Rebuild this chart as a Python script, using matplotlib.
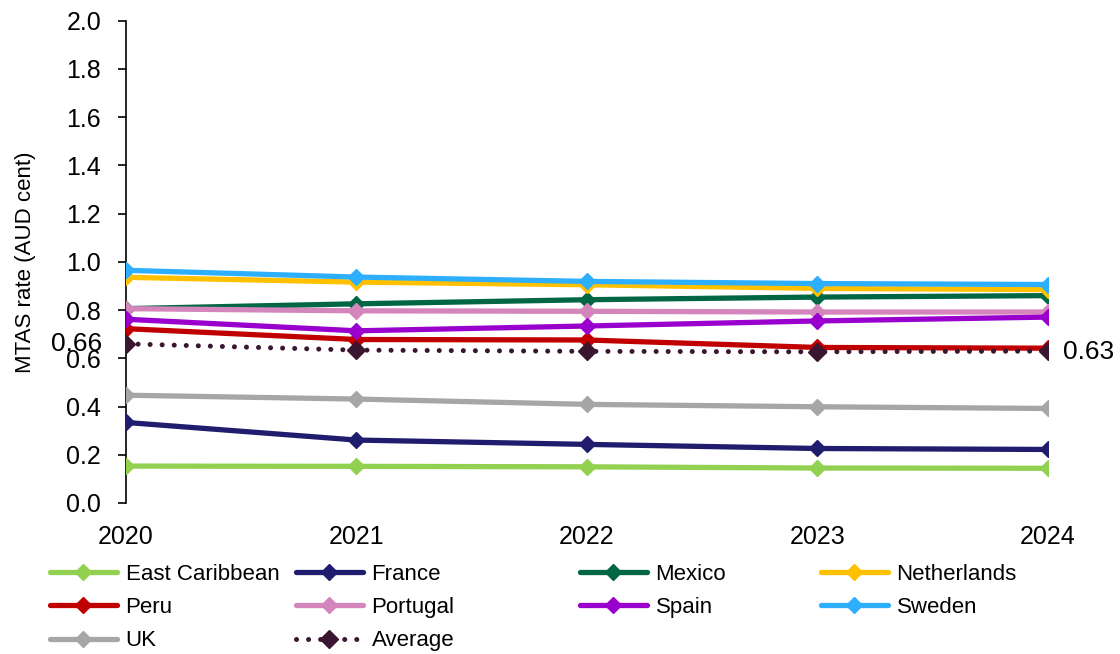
import matplotlib
matplotlib.use("Agg")
import matplotlib.pyplot as plt

years = [2020, 2021, 2022, 2023, 2024]

east_caribbean = [0.153, 0.152, 0.150, 0.145, 0.144]
france = [0.334, 0.261, 0.243, 0.226, 0.222]
mexico = [0.806, 0.826, 0.843, 0.854, 0.860]
netherlands = [0.936, 0.916, 0.905, 0.890, 0.885]
peru = [0.723, 0.678, 0.676, 0.645, 0.642]
portugal = [0.806, 0.797, 0.795, 0.792, 0.792]
spain = [0.762, 0.714, 0.734, 0.755, 0.771]
sweden = [0.965, 0.937, 0.919, 0.910, 0.906]
uk = [0.447, 0.431, 0.409, 0.399, 0.392]
average = [0.66, 0.634, 0.629, 0.627, 0.63]

series = [
    ("East Caribbean", east_caribbean, "#92D050"),
    ("France", france, "#211D6E"),
    ("Mexico", mexico, "#006643"),
    ("Netherlands", netherlands, "#FFC000"),
    ("Peru", peru, "#C00000"),
    ("Portugal", portugal, "#D485BC"),
    ("Spain", spain, "#9A00CD"),
    ("Sweden", sweden, "#2DAFFE"),
    ("UK", uk, "#A6A6A6"),
]
avg_color = "#3A1631"

plt.rcParams["font.family"] = ["Liberation Sans", "DejaVu Sans"]

fig = plt.figure(figsize=(11.2, 6.54), dpi=100)
ax = fig.add_axes([0.1125, 0.2309, 0.8232, 0.7374])

handles = {}
for name, vals, color in series:
    (ln,) = ax.plot(years, vals, color=color, lw=3.8, marker="D", markersize=8,
                    solid_capstyle="round", label=name, zorder=3)
    handles[name] = ln

(avg_ln,) = ax.plot(years, average, color=avg_color, lw=3.6, linestyle=(0, (0.01, 2.4)),
                    dash_capstyle="round", marker="D", markersize=9.5, label="Average", zorder=4)
handles["Average"] = avg_ln

# value labels on first and last average points
ax.annotate(f"{average[0]:.2f}", (years[0], average[0]), xytext=(-17, 0), textcoords="offset points",
            ha="right", va="center", fontsize=19, zorder=5, annotation_clip=False)
ax.annotate(f"{average[-1]:.2f}", (years[-1], average[-1]), xytext=(11, -1), textcoords="offset points",
            ha="left", va="center", fontsize=19, zorder=5, annotation_clip=False)

ax.set_xlim(2020, 2024)
ax.set_ylim(0, 2.0)
ax.set_xticks(years)
ax.set_yticks([i / 5 for i in range(11)])
ax.yaxis.set_major_formatter(matplotlib.ticker.FormatStrFormatter("%.1f"))
ax.tick_params(axis="y", labelsize=18, length=6, width=1.2, direction="out", pad=12)
ax.tick_params(axis="x", labelsize=18, length=0, pad=16)
ax.set_ylabel("MTAS rate (AUD cent)", fontsize=16, labelpad=22)

for side in ("top", "right", "bottom"):
    ax.spines[side].set_visible(False)
ax.spines["left"].set_linewidth(1.2)

# legend laid out as four separate columns
columns = [
    (["East Caribbean", "Peru", "UK"], 50),
    (["France", "Portugal", "Average"], 296),
    (["Mexico", "Spain"], 580),
    (["Netherlands", "Sweden"], 821),
]
for names, xpix in columns:
    fig.legend([handles[n] for n in names], names, loc="upper left",
               bbox_to_anchor=(xpix / 1120, 1 - 564 / 654), frameon=False,
               fontsize=16, handlelength=3.0, handletextpad=0.4, labelspacing=0.55,
               borderpad=0, borderaxespad=0)

fig.savefig("out.png", dpi=100)
